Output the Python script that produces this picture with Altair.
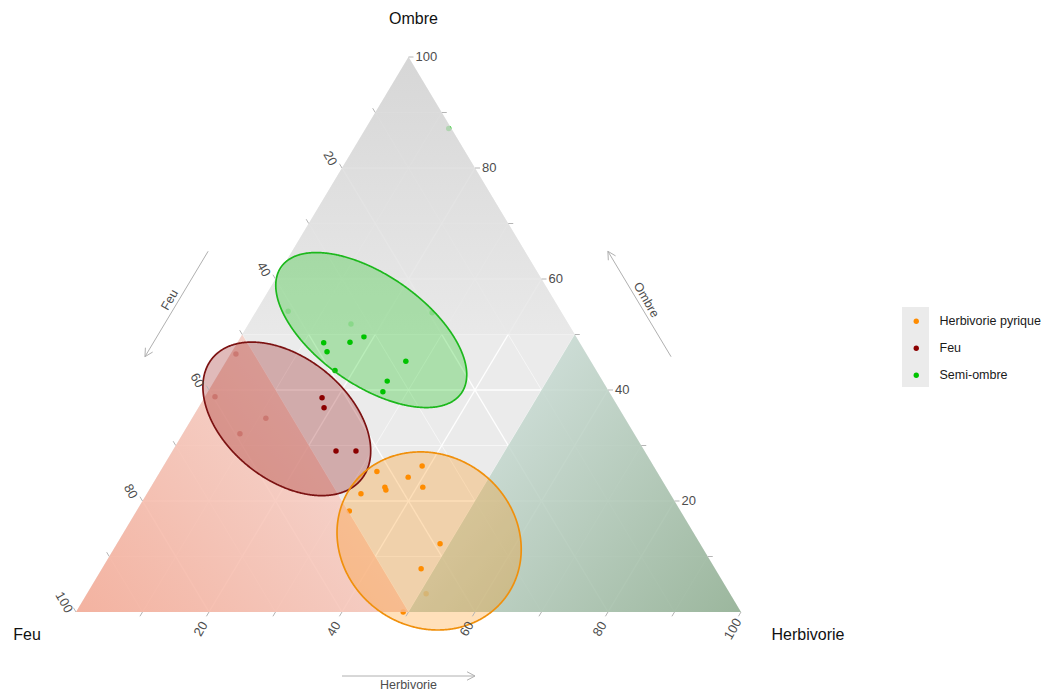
import numpy as np
import pandas as pd
import altair as alt

# ---- relevés: composition (%) Feu / Herbivorie / Ombre ----
semi_feu = [38.5, 38.8, 34.5, 31.9, 39.3, 27.8, 32.4, 34.0, 41.0, 32.7, 19.5, 0.4]
semi_herb = [13.0, 14.3, 16.9, 18.5, 17.2, 27.0, 26.0, 26.3, 4.8, 15.4, 26.6, 12.5]
semi_omb = [48.5, 46.9, 48.6, 49.6, 43.5, 45.2, 41.6, 39.7, 54.2, 51.9, 53.9, 87.1]

feu_feu = [43.7, 44.3, 46.4, 43.4, 59.7, 54.0, 59.3, 52.7]
feu_herb = [17.7, 18.9, 24.6, 27.6, 1.5, 11.1, 8.6, 0.8]
feu_omb = [38.6, 36.8, 29.0, 29.0, 38.8, 34.9, 32.1, 46.5]

herb_feu = [34.8, 42.1, 37.9, 36.6, 42.3, 42.4, 46.5, 49.8, 39.1, 44.2, 45.7, 50.8]
herb_herb = [38.9, 32.6, 37.8, 40.9, 35.2, 35.6, 32.2, 32.0, 48.6, 48.0, 51.0, 49.2]
herb_omb = [26.3, 25.3, 24.3, 22.5, 22.5, 22.0, 21.3, 18.2, 12.3, 7.8, 3.3, 0.0]

groups = ["Herbivorie pyrique", "Feu", "Semi-ombre"]
group_colors = ["#ff8c00", "#8b0000", "#00c400"]

# ---- ellipses: centre (Feu, Herbivorie, Ombre) + conjugate semi-axes in the plane ----
ell_groups = ["Semi-ombre", "Feu", "Herbivorie pyrique"]
ell_feu = [30.2, 50.9, 40.5]
ell_herb = [19.0, 14.3, 46.7]
ell_omb = [50.8, 34.8, 12.8]
ell_u = [(13.55, -11.37), (11.22, -10.88), (11.70, -9.82)]
ell_v = [(-4.75, -8.11), (-5.77, -8.54), (-7.41, -12.69)]

tick_labels = [20, 40, 60, 80, 100]
tick_steps = list(range(10, 101, 10))
grid_steps = list(range(10, 100, 10))

FONT = "Liberation Sans"

# ---- canvas and projection of the ternary plane ----
W, H = 1051, 693
KX, KY = 6.65, 5.55      # pixels per percentage point
X0, Y0 = 76.0, 612.0     # pixel position of the Feu corner


def tern_xy(f, h, o):
    return h + o / 2.0, o


def to_px(x, y):
    return X0 + x * KX, Y0 - y * KY


def from_px(px, py):
    return (px - X0) / KX, (Y0 - py) / KY


def shift(xy, dx, dy):
    px, py = to_px(*xy)
    return from_px(px + dx, py + dy)


xs = alt.Scale(domain=[from_px(0, 0)[0], from_px(W, 0)[0]], nice=False, zero=False)
ys = alt.Scale(domain=[from_px(0, H)[1], from_px(0, 0)[1]], nice=False, zero=False)


def X(f="x"):
    return alt.X(f"{f}:Q", scale=xs, axis=None)


def Y(f="y"):
    return alt.Y(f"{f}:Q", scale=ys, axis=None)


# ---- points ----
rows = []
for g, F, Hb, O in [("Semi-ombre", semi_feu, semi_herb, semi_omb),
                    ("Feu", feu_feu, feu_herb, feu_omb),
                    ("Herbivorie pyrique", herb_feu, herb_herb, herb_omb)]:
    for f, h, o in zip(F, Hb, O):
        x, y = tern_xy(f, h, o)
        rows.append(dict(groupe=g, Feu=f, Herbivorie=h, Ombre=o, x=x, y=y))
pts = pd.DataFrame(rows)

# ---- background triangles ----
def tri(verts, base):
    xy = sorted(tern_xy(*v) for v in verts)
    return pd.DataFrame({"x": [p[0] for p in xy], "y": [p[1] for p in xy], "y2": base})


def grad(c0, c1, x1, y1, x2, y2):
    return alt.Gradient(gradient="linear",
                        stops=[alt.GradientStop(color=c0, offset=0),
                               alt.GradientStop(color=c1, offset=1)],
                        x1=x1, y1=y1, x2=x2, y2=y2)


def area(df, **mark):
    return alt.Chart(df).mark_area(**mark).encode(x=X(), y=Y(), y2=alt.Y2("y2"))


base_tri = area(tri([(100, 0, 0), (0, 0, 100), (0, 100, 0)], 0), color="#ebebeb")
feu_tri = area(tri([(100, 0, 0), (50, 0, 50), (50, 50, 0)], 0),
               color=grad("#f5a690", "#f7cdc3", 0, 1, 0.8, 0.45), opacity=0.82)
herb_tri = area(tri([(50, 50, 0), (0, 50, 50), (0, 100, 0)], 0),
                color=grad("#8aab8c", "#c4d8cf", 1, 1, 0.2, 0.45), opacity=0.82)
omb_tri = area(tri([(50, 0, 50), (0, 0, 100), (0, 50, 50)], 50),
               color=grad("#d2d2d2", "#e8e8e8", 0.5, 0, 0.5, 1), opacity=0.82)

# ---- grid ----
grid = []
for k in grid_steps:
    for a, b in [((100 - k, 0, k), (0, 100 - k, k)),
                 ((100 - k, k, 0), (0, k, 100 - k)),
                 ((k, 100 - k, 0), (k, 0, 100 - k))]:
        (x, y), (x2, y2) = tern_xy(*a), tern_xy(*b)
        grid.append(dict(x=x, y=y, x2=x2, y2=y2, major=(k % 20 == 0)))
grid = pd.DataFrame(grid)


def rules(df, **mark):
    return alt.Chart(df).mark_rule(**mark).encode(
        x=X(), y=Y(), x2=alt.X2("x2"), y2=alt.Y2("y2"))


grid_minor = rules(grid[~grid.major], color="white", strokeWidth=0.8, opacity=0.7)
grid_major = rules(grid[grid.major], color="white", strokeWidth=1.3, opacity=0.95)

points = alt.Chart(pts).mark_circle(size=30, opacity=1).encode(
    x=X(), y=Y(),
    color=alt.Color("groupe:N", scale=alt.Scale(domain=groups, range=group_colors),
                    legend=alt.Legend(title=None, orient="none", legendX=910, legendY=315,
                                      symbolType="circle", symbolSize=28, symbolStrokeWidth=0,
                                      labelFont=FONT, labelFontSize=12.5, labelColor="#1a1a1a",
                                      labelOffset=17, rowPadding=14, padding=0)),
    tooltip=["groupe", "Feu", "Herbivorie", "Ombre"])

# ---- ellipses ----
t = np.linspace(0, 2 * np.pi, 721)
outline, fill = [], []
for g, f, h, o, u, v in zip(ell_groups, ell_feu, ell_herb, ell_omb, ell_u, ell_v):
    cx, cy = tern_xy(f, h, o)
    ex = cx + u[0] * np.cos(t) + v[0] * np.sin(t)
    ey = cy + u[1] * np.cos(t) + v[1] * np.sin(t)
    for k, (a, b) in enumerate(zip(ex, ey)):
        outline.append(dict(groupe=g, k=k, x=a, y=b))
    n = len(t) - 1
    i0, i1 = int(np.argmin(ex[:n])), int(np.argmax(ex[:n]))
    idx = np.roll(np.arange(n), -i0)
    p1 = int(np.where(idx == i1)[0][0])
    ca = idx[:p1 + 1]
    cb = np.r_[idx[p1:], i0][::-1]
    grid_x = np.linspace(ex[i0], ex[i1], 240)
    ya = np.interp(grid_x, ex[ca], ey[ca])
    yb = np.interp(grid_x, ex[cb], ey[cb])
    for a, b1, b2 in zip(grid_x, np.maximum(ya, yb), np.minimum(ya, yb)):
        fill.append(dict(groupe=g, x=a, y=b1, y2=b2))
outline, fill = pd.DataFrame(outline), pd.DataFrame(fill)

ell_scale = alt.Scale(domain=groups, range=["#ff8c00", "#8b0000", "#00c000"])
ell_fill = alt.Chart(fill).mark_area(opacity=0.27).encode(
    x=X(), y=Y(), y2=alt.Y2("y2"),
    fill=alt.Fill("groupe:N", scale=ell_scale, legend=None))
ell_line = alt.Chart(outline).mark_line(strokeWidth=1.7).encode(
    x=X(), y=Y(), order="k:Q",
    stroke=alt.Stroke("groupe:N", scale=alt.Scale(domain=groups,
                      range=["#f0900c", "#7c1212", "#1cb81c"]), legend=None))

# ---- ticks and tick labels ----
def unit(vx, vy):
    n = (vx ** 2 + vy ** 2) ** 0.5
    return vx / n, vy / n


pl, pt, pr = to_px(0, 0), to_px(50, 100), to_px(100, 0)
d_left = unit(pt[0] - pr[0], pt[1] - pr[1])     # Feu gridlines extended outward
d_bottom = unit(pl[0] - pt[0], pl[1] - pt[1])   # Herbivorie gridlines extended outward

ticks, lab_r, lab_l, lab_b = [], [], [], []
for k in tick_steps:
    e_r = tern_xy(0, 100 - k, k)
    e_l = tern_xy(k, 0, 100 - k)
    e_b = tern_xy(100 - k, k, 0)
    for e, d in [(e_r, (5, 0)), (e_l, (5 * d_left[0], 5 * d_left[1])),
                 (e_b, (5 * d_bottom[0], 5 * d_bottom[1]))]:
        x2, y2 = shift(e, *d)
        ticks.append(dict(x=e[0], y=e[1], x2=x2, y2=y2))
    if k in tick_labels:
        x, y = shift(e_r, 7, 0)
        lab_r.append(dict(x=x, y=y, t=str(k)))
        x, y = shift(e_l, -12, -9.5)
        lab_l.append(dict(x=x, y=y, t=str(k)))
        x, y = shift(e_b, -8, 17)
        lab_b.append(dict(x=x, y=y, t=str(k)))

tick_rules = rules(pd.DataFrame(ticks), color="#b5b5b5", strokeWidth=1)


def texts(rows_, **mark):
    style = dict(font=FONT, fontSize=13, color="#4d4d4d", baseline="middle")
    style.update(mark)
    return alt.Chart(pd.DataFrame(rows_)).mark_text(**style).encode(x=X(), y=Y(), text="t:N")


lab_right = texts(lab_r, align="left")
lab_left = texts(lab_l, align="center", angle=60)
lab_bottom = texts(lab_b, align="center", angle=300)

# ---- axis arrows ----
arrow_rows, arrow_text = [], []


def arrow(start, tip, label, ang, lab_off):
    sx, sy = to_px(*start)
    tx, ty = to_px(*tip)
    d = unit(tx - sx, ty - sy)
    arrow_rows.append(dict(x=start[0], y=start[1], x2=tip[0], y2=tip[1]))
    for s in (1, -1):
        c, si = np.cos(np.radians(28)), s * np.sin(np.radians(28))
        bx, by = d[0] * c - d[1] * si, d[0] * si + d[1] * c
        ax, ay = from_px(tx - 9 * bx, ty - 9 * by)
        arrow_rows.append(dict(x=tip[0], y=tip[1], x2=ax, y2=ay))
    mx, my = (start[0] + tip[0]) / 2, (start[1] + tip[1]) / 2
    lx, ly = shift((mx, my), *lab_off)
    arrow_text.append(dict(x=lx, y=ly, t=label, a=ang))


arrow(shift(tern_xy(35, 0, 65), -84, 0), shift(tern_xy(54, 0, 46), -84, 0),
      "Feu", 300, (-8 * 0.858, -8 * 0.514))
arrow(shift(tern_xy(0, 54, 46), 83, 0), shift(tern_xy(0, 35, 65), 83, 0),
      "Ombre", 60, (8 * 0.858, -8 * 0.514))
arrow(shift(tern_xy(60, 40, 0), 0, 64), shift(tern_xy(40, 60, 0), 0, 64),
      "Herbivorie", 0, (0, 9))

arrow_lines = rules(pd.DataFrame(arrow_rows), color="#b0b0b0", strokeWidth=1)
arrow_labels = alt.Chart(pd.DataFrame(arrow_text)).mark_text(
    font=FONT, fontSize=12.5, color="#4d4d4d", baseline="middle", align="center").encode(
    x=X(), y=Y(), text="t:N", angle=alt.Angle("a:Q", scale=None))

# ---- corner titles ----
corner = []
for name, v, off in [("Ombre", (0, 0, 100), (5, -38)),
                     ("Feu", (100, 0, 0), (-49, 23)),
                     ("Herbivorie", (0, 100, 0), (67, 23))]:
    x, y = shift(tern_xy(*v), *off)
    corner.append(dict(x=x, y=y, t=name))
corner_labels = texts(corner, align="center", fontSize=16, color="#111111")

# ---- legend key panel ----
key_panel = alt.Chart(pd.DataFrame({"k": [0]})).mark_rect(color="#ebebeb").encode(
    x=alt.value(902), x2=alt.value(929), y=alt.value(307), y2=alt.value(387))

chart = alt.layer(
    base_tri, grid_minor, grid_major, points,
    feu_tri, herb_tri, omb_tri,
    ell_fill, ell_line,
    tick_rules, lab_right, lab_left, lab_bottom,
    arrow_lines, arrow_labels, corner_labels, key_panel,
).properties(
    width=W, height=H, autosize="none", padding=0, background="white"
).configure_view(stroke=None)

chart.save("out.html", embed_options={"renderer": "svg", "actions": False})
